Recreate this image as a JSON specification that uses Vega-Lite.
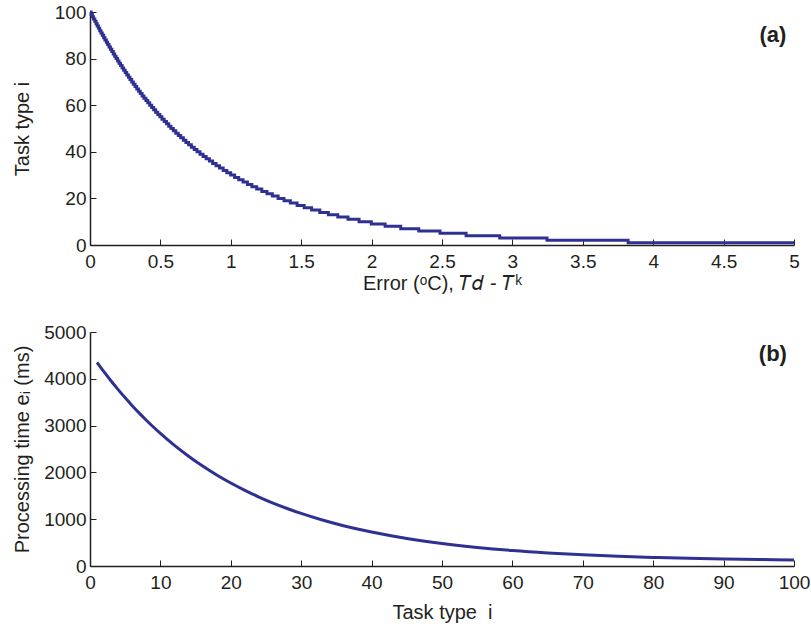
{
  "$schema": "https://vega.github.io/schema/vega-lite/v6.json",
  "padding": {"left": 12, "top": 3, "right": 10, "bottom": 5},
  "spacing": 30,
  "config": {
    "font": "Liberation Sans",
    "view": {"stroke": null},
    "axis": {
      "grid": false,
      "domainColor": "#231f20",
      "domainWidth": 1.5,
      "tickColor": "#231f20",
      "tickSize": -6,
      "tickWidth": 1,
      "labelFont": "Liberation Sans",
      "labelFontSize": 19,
      "labelColor": "#231f20",
      "labelFlush": false,
      "labelOverlap": false,
      "titleFont": "Liberation Sans",
      "titleFontSize": 20,
      "titleFontWeight": "normal",
      "titleColor": "#231f20"
    }
  },
  "datasets": {
    "steps": [
      {"err": 0, "task": 100},
      {"err": 0.008, "task": 99}, {"err": 0.017, "task": 98}, {"err": 0.025, "task": 97}, {"err": 0.034, "task": 96},
      {"err": 0.043, "task": 95}, {"err": 0.051, "task": 94}, {"err": 0.060, "task": 93}, {"err": 0.069, "task": 92},
      {"err": 0.078, "task": 91}, {"err": 0.087, "task": 90}, {"err": 0.097, "task": 89}, {"err": 0.106, "task": 88},
      {"err": 0.116, "task": 87}, {"err": 0.125, "task": 86}, {"err": 0.135, "task": 85}, {"err": 0.145, "task": 84},
      {"err": 0.155, "task": 83}, {"err": 0.165, "task": 82}, {"err": 0.175, "task": 81}, {"err": 0.185, "task": 80},
      {"err": 0.196, "task": 79}, {"err": 0.206, "task": 78}, {"err": 0.217, "task": 77}, {"err": 0.228, "task": 76},
      {"err": 0.239, "task": 75}, {"err": 0.250, "task": 74}, {"err": 0.261, "task": 73}, {"err": 0.273, "task": 72},
      {"err": 0.284, "task": 71}, {"err": 0.296, "task": 70}, {"err": 0.308, "task": 69}, {"err": 0.320, "task": 68},
      {"err": 0.332, "task": 67}, {"err": 0.345, "task": 66}, {"err": 0.357, "task": 65}, {"err": 0.370, "task": 64},
      {"err": 0.383, "task": 63}, {"err": 0.397, "task": 62}, {"err": 0.410, "task": 61}, {"err": 0.424, "task": 60},
      {"err": 0.438, "task": 59}, {"err": 0.452, "task": 58}, {"err": 0.466, "task": 57}, {"err": 0.481, "task": 56},
      {"err": 0.496, "task": 55}, {"err": 0.511, "task": 54}, {"err": 0.527, "task": 53}, {"err": 0.543, "task": 52},
      {"err": 0.559, "task": 51}, {"err": 0.575, "task": 50}, {"err": 0.592, "task": 49}, {"err": 0.609, "task": 48},
      {"err": 0.627, "task": 47}, {"err": 0.644, "task": 46}, {"err": 0.663, "task": 45}, {"err": 0.681, "task": 44},
      {"err": 0.700, "task": 43}, {"err": 0.720, "task": 42}, {"err": 0.740, "task": 41}, {"err": 0.760, "task": 40},
      {"err": 0.781, "task": 39}, {"err": 0.803, "task": 38}, {"err": 0.825, "task": 37}, {"err": 0.848, "task": 36},
      {"err": 0.871, "task": 35}, {"err": 0.895, "task": 34}, {"err": 0.920, "task": 33}, {"err": 0.946, "task": 32},
      {"err": 0.972, "task": 31}, {"err": 0.999, "task": 30}, {"err": 1.027, "task": 29}, {"err": 1.056, "task": 28},
      {"err": 1.087, "task": 27}, {"err": 1.118, "task": 26}, {"err": 1.150, "task": 25}, {"err": 1.184, "task": 24},
      {"err": 1.220, "task": 23}, {"err": 1.257, "task": 22}, {"err": 1.295, "task": 21}, {"err": 1.336, "task": 20},
      {"err": 1.378, "task": 19}, {"err": 1.423, "task": 18}, {"err": 1.471, "task": 17}, {"err": 1.521, "task": 16},
      {"err": 1.574, "task": 15}, {"err": 1.632, "task": 14}, {"err": 1.693, "task": 13}, {"err": 1.760, "task": 12},
      {"err": 1.832, "task": 11}, {"err": 1.911, "task": 10}, {"err": 1.998, "task": 9}, {"err": 2.096, "task": 8},
      {"err": 2.207, "task": 7}, {"err": 2.335, "task": 6}, {"err": 2.486, "task": 5}, {"err": 2.671, "task": 4},
      {"err": 2.910, "task": 3}, {"err": 3.246, "task": 2}, {"err": 3.822, "task": 1}, {"err": 5, "task": 1}
    ],
    "proc": [
      {"task": 1, "time": 4350}, {"task": 2, "time": 4147}, {"task": 3, "time": 3953}, {"task": 4, "time": 3769},
      {"task": 5, "time": 3593}, {"task": 6, "time": 3426}, {"task": 7, "time": 3266}, {"task": 8, "time": 3115},
      {"task": 9, "time": 2970}, {"task": 10, "time": 2833}, {"task": 12, "time": 2577}, {"task": 14, "time": 2346},
      {"task": 16, "time": 2136}, {"task": 18, "time": 1945}, {"task": 20, "time": 1773}, {"task": 22, "time": 1616},
      {"task": 24, "time": 1474}, {"task": 26, "time": 1345}, {"task": 28, "time": 1229}, {"task": 30, "time": 1123},
      {"task": 33, "time": 982}, {"task": 36, "time": 861}, {"task": 40, "time": 725}, {"task": 45, "time": 588},
      {"task": 50, "time": 481}, {"task": 55, "time": 397}, {"task": 60, "time": 331}, {"task": 65, "time": 280},
      {"task": 70, "time": 240}, {"task": 75, "time": 208}, {"task": 80, "time": 184}, {"task": 85, "time": 164},
      {"task": 90, "time": 149}, {"task": 95, "time": 138}, {"task": 100, "time": 128}
    ],
    "labA": [{"x": 4.85, "y": 90, "label": "(a)"}],
    "labB": [{"x": 97.0, "y": 4520, "label": "(b)"}]
  },
  "vconcat": [
    {
      "width": 704,
      "height": 233,
      "layer": [
        {
          "data": {"name": "steps"},
          "mark": {"type": "line", "interpolate": "step-after", "color": "#2e3192", "strokeWidth": 3},
          "encoding": {
            "x": {"field": "err", "type": "quantitative", "scale": {"domain": [0, 5], "nice": false},
                  "axis": {"values": [0, 0.5, 1, 1.5, 2, 2.5, 3, 3.5, 4, 4.5, 5], "format": "~g", "labelPadding": 13, "title": "Error (ᵒC),  𝑇𝑑 - 𝑇ᵏ", "titlePadding": 2}},
            "y": {"field": "task", "type": "quantitative", "scale": {"domain": [0, 100], "nice": false},
                  "axis": {"values": [0, 20, 40, 60, 80, 100], "format": "d", "labelPadding": 10, "title": "Task type i", "titlePadding": 22}}
          }
        },
        {
          "data": {"name": "labA"},
          "mark": {"type": "text", "fontSize": 22, "fontWeight": "bold", "font": "Liberation Sans", "color": "#231f20"},
          "encoding": {
            "x": {"field": "x", "type": "quantitative"},
            "y": {"field": "y", "type": "quantitative"},
            "text": {"field": "label"}
          }
        }
      ]
    },
    {
      "width": 704,
      "height": 234,
      "layer": [
        {
          "data": {"name": "proc"},
          "mark": {"type": "line", "interpolate": "monotone", "color": "#2e3192", "strokeWidth": 3},
          "encoding": {
            "x": {"field": "task", "type": "quantitative", "scale": {"domain": [0, 100], "nice": false},
                  "axis": {"values": [0, 10, 20, 30, 40, 50, 60, 70, 80, 90, 100], "format": "d", "labelPadding": 13, "title": "Task type\u00a0\u00a0i", "titlePadding": 10}},
            "y": {"field": "time", "type": "quantitative", "scale": {"domain": [0, 5000], "nice": false},
                  "axis": {"values": [0, 1000, 2000, 3000, 4000, 5000], "format": "d", "labelPadding": 10, "title": "Processing time eᵢ (ms)", "titlePadding": 11}}
          }
        },
        {
          "data": {"name": "labB"},
          "mark": {"type": "text", "fontSize": 22, "fontWeight": "bold", "font": "Liberation Sans", "color": "#231f20"},
          "encoding": {
            "x": {"field": "x", "type": "quantitative"},
            "y": {"field": "y", "type": "quantitative"},
            "text": {"field": "label"}
          }
        }
      ]
    }
  ]
}
